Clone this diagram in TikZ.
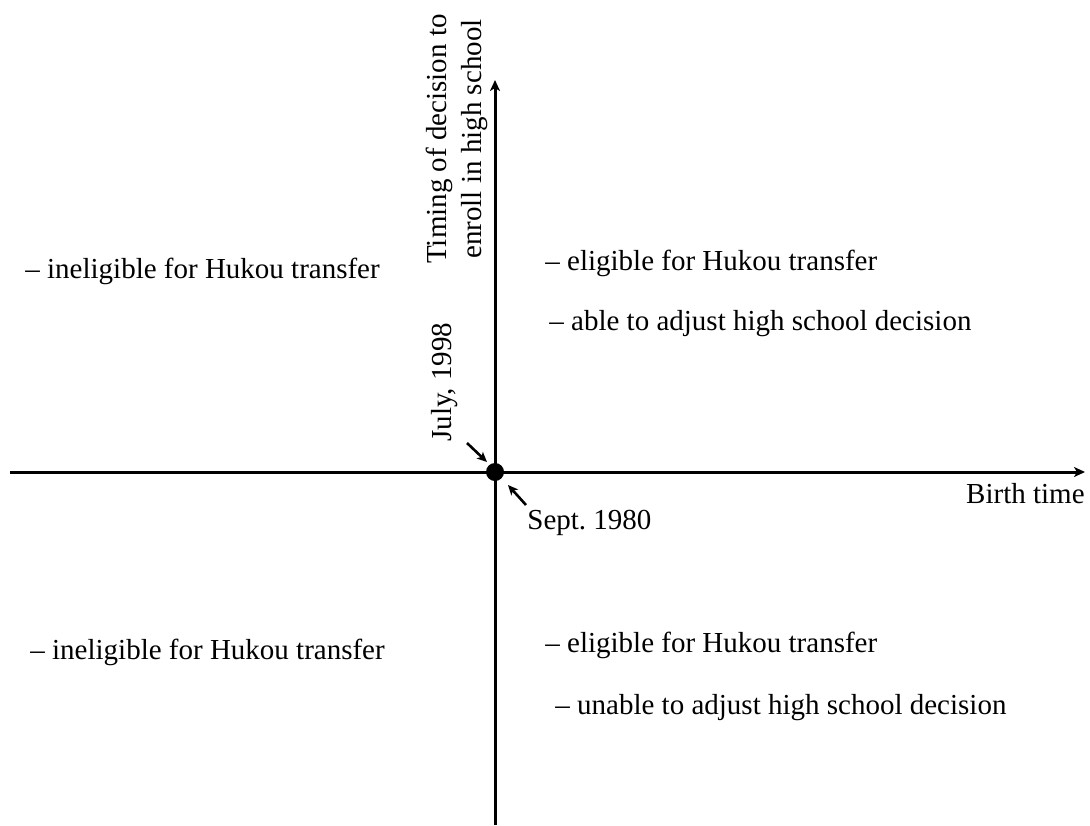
\documentclass[tikz,border=0pt]{standalone}
\usepackage{fontspec}
\setmainfont{Liberation Serif}
\usetikzlibrary{positioning,arrows.meta}

\begin{document}
\begin{tikzpicture}[
  x=0.5pt, y=-0.5pt,
  font=\fontsize{14.5}{17.4}\selectfont,
  axis/.style={line width=1.5pt, -{Stealth[length=5.5pt, width=5pt, inset=1.5pt]}},
  pointer/.style={line width=1.3pt, -{Stealth[length=5pt, width=4.5pt, inset=1.3pt]}},
  note/.style={anchor=base west, inner sep=0pt},
  ]
  \useasboundingbox (0,0) rectangle (1090,825);
  % axes
  \coordinate (xstart) at (10,472);
  \coordinate (xend) at (1085,472);
  \coordinate (ystart) at (495,825);
  \coordinate (yend) at (495,80);
  \coordinate (origin) at (495,472);
  \draw[axis] (xstart) -- (xend);
  \draw[axis] (ystart) -- (yend);
  \fill (origin) circle (4.5pt);
  \node[anchor=base east, inner sep=0pt] (xlabel) at (1085,503) {Birth time};
  \node[rotate=90, align=center, inner sep=0pt] (ylabel) at (457,139)
    {Timing of decision to\\enroll in high school};
  % cutoff dates
  \node[rotate=90, anchor=west, inner sep=0pt] (july) at (445,442) {July, 1998};
  \node[note] (sept) at (527,529) {Sept.\ 1980};
  \coordinate (julytail) at (467,443);
  \coordinate (julyhead) at (487,462);
  \coordinate (septtail) at (526,505);
  \coordinate (septhead) at (508,485);
  \draw[pointer] (julytail) -- (julyhead);
  \draw[pointer] (septtail) -- (septhead);
  % quadrants
  \node[note] (ul) at (25,278) {-- ineligible for Hukou transfer};
  \node[note] (ur1) at (545,270) {-- eligible for Hukou transfer};
  \node[note] (ur2) at (549,330) {-- able to adjust high school decision};
  \node[note] (ll) at (30,659) {-- ineligible for Hukou transfer};
  \node[note] (lr1) at (545,652) {-- eligible for Hukou transfer};
  \node[note] (lr2) at (555,714) {-- unable to adjust high school decision};
\end{tikzpicture}
\end{document}
